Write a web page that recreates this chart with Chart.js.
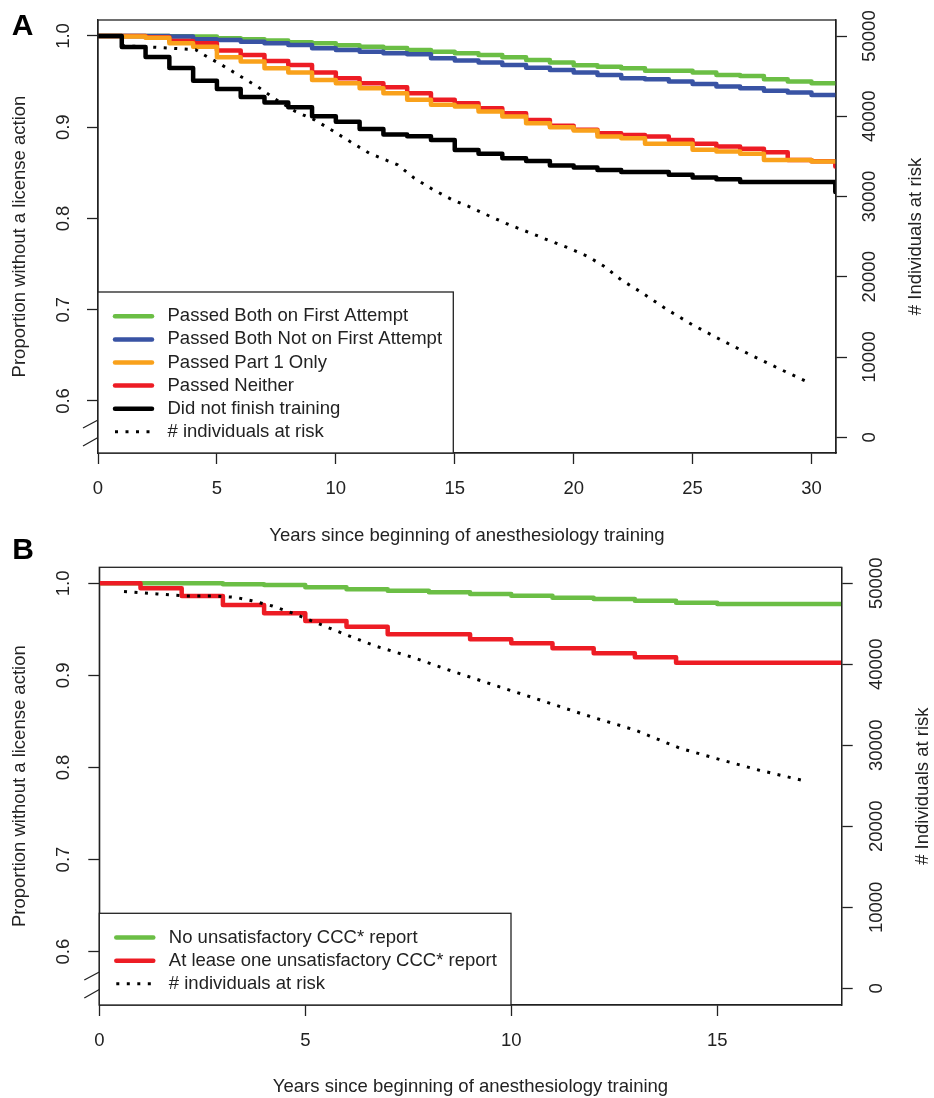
<!DOCTYPE html>
<html>
<head>
<meta charset="utf-8">
<script src="https://cdn.jsdelivr.net/npm/chart.js@4.4.1/dist/chart.umd.min.js"></script>
<style>
  body { margin: 0; background: #fff; }
  canvas { position: absolute; left: 0; }
  #chartA { top: 0; }
  #chartB { top: 530px; }
</style>
</head>
<body>
<canvas id="chartA" width="934" height="548"></canvas>
<canvas id="chartB" width="934" height="568"></canvas>
<script>
// ---- panel A: survival by board exam result (yearly steps) ----
const yearsA = [0, 1, 2, 3, 4, 5, 6, 7, 8, 9, 10, 11, 12, 13, 14, 15, 16, 17, 18, 19, 20, 21, 22, 23, 24, 25, 26, 27, 28, 29, 30, 31];
const passedBothFirst = [1.0, 1.0, 1.0, 0.9998, 0.9993, 0.9974, 0.9964, 0.9949, 0.9931, 0.992, 0.9898, 0.9883, 0.9869, 0.9847, 0.9828, 0.981, 0.9792, 0.9766, 0.9737, 0.9708, 0.9679, 0.9664, 0.9646, 0.962, 0.962, 0.9599, 0.9573, 0.9562, 0.9526, 0.95, 0.9482, 0.9482];
const passedBothNotFirst = [1.0, 1.0, 1.0, 0.9993, 0.9964, 0.9956, 0.9938, 0.992, 0.9901, 0.9865, 0.9847, 0.9828, 0.981, 0.98, 0.9755, 0.973, 0.9708, 0.9682, 0.9653, 0.9628, 0.9599, 0.9573, 0.9536, 0.9526, 0.95, 0.9474, 0.9445, 0.9427, 0.9401, 0.938, 0.9354, 0.9354];
const passedPart1Only = [1.0, 0.9993, 0.998, 0.992, 0.9883, 0.9766, 0.9719, 0.9646, 0.9599, 0.9518, 0.9482, 0.9427, 0.9372, 0.93, 0.9245, 0.9226, 0.9172, 0.9117, 0.9044, 0.9, 0.8964, 0.8898, 0.888, 0.8818, 0.8818, 0.8752, 0.8734, 0.8708, 0.8642, 0.8642, 0.8624, 0.8624];
const passedNeither = [1.0, 1.0, 0.9985, 0.9945, 0.992, 0.984, 0.9792, 0.9726, 0.9682, 0.9599, 0.9536, 0.9482, 0.9438, 0.9372, 0.93, 0.9263, 0.9208, 0.9153, 0.908, 0.9015, 0.8971, 0.8934, 0.8916, 0.8898, 0.8861, 0.8818, 0.8788, 0.8763, 0.8726, 0.8642, 0.8628, 0.857];
const didNotFinish = [1.0, 0.988, 0.977, 0.965, 0.951, 0.942, 0.933, 0.927, 0.922, 0.912, 0.906, 0.898, 0.892, 0.89, 0.886, 0.875, 0.871, 0.866, 0.863, 0.858, 0.856, 0.853, 0.851, 0.851, 0.848, 0.845, 0.843, 0.84, 0.84, 0.84, 0.84, 0.829];
const atRiskYearsA = [1.0, 2.4, 4.1, 4.4, 5.2, 6.0, 6.7, 7.5, 8.3, 9.1, 9.8, 10.7, 11.4, 12.6, 13.3, 14.1, 14.9, 15.6, 16.5, 17.3, 18.2, 18.9, 19.8, 20.6, 21.3, 22.0, 22.8, 23.9, 25.0, 26.2, 27.3, 28.6, 29.8];
const atRiskA = [48800, 48600, 48300, 47750, 46400, 44960, 43720, 42060, 40600, 39560, 38320, 36660, 35410, 33950, 32290, 30840, 29590, 28750, 27510, 26470, 25440, 24600, 23570, 22520, 21270, 19610, 18150, 15960, 14000, 12130, 10470, 8600, 6930];
const xTicksA = [0, 5, 10, 15, 20, 25, 30];

// ---- panel B: survival by CCC report ----
const yearsB = [0, 1, 2, 3, 4, 5, 6, 7, 8, 9, 10, 11, 12, 13, 14, 15, 16, 17, 18];
const noUnsatCCC = [1.0, 1.0, 1.0, 0.9989, 0.9982, 0.9957, 0.9935, 0.992, 0.9902, 0.9884, 0.9865, 0.9844, 0.983, 0.9811, 0.9789, 0.9775, 0.9775, 0.9775, 0.9775];
const atLeastOneUnsat = [1.0, 0.9946, 0.9862, 0.9764, 0.9674, 0.959, 0.9529, 0.9446, 0.9446, 0.9392, 0.9349, 0.9294, 0.924, 0.9197, 0.9138, 0.9138, 0.9138, 0.9138, 0.9138];
const atRiskYearsB = [0.6, 1.4, 2.1, 2.8, 3.3, 3.7, 4.2, 4.7, 5.3, 6.0, 6.7, 7.6, 8.6, 9.7, 10.7, 11.8, 13.0, 14.1, 15.1, 16.0, 17.2];
const atRiskB = [49000, 48680, 48430, 48430, 48270, 47850, 47200, 46300, 45060, 43620, 42260, 40860, 39090, 37240, 35590, 33740, 31890, 29630, 28190, 26950, 25510];
const xTicksB = [0, 5, 10, 15];

// shared axes
const propTicks = [0.6, 0.7, 0.8, 0.9, 1.0];
const riskTicks = [0, 10000, 20000, 30000, 40000, 50000];

const INK = "#222";
const FONT_FAMILY = "'Liberation Sans', Arial, Helvetica, sans-serif";
const FS = 18.5;

Chart.defaults.font.family = FONT_FAMILY;
Chart.defaults.font.size = FS;
Chart.defaults.color = INK;

const pts = (xs, ys) => xs.map((x, i) => ({ x: x, y: ys[i] }));

function km(label, xs, ys, color, order) {
  return {
    label: label, data: pts(xs, ys), yAxisID: "y",
    borderColor: color, borderWidth: 4.5, stepped: "before",
    borderCapStyle: "round", borderJoinStyle: "round", order: order
  };
}

function riskLine(xs, ys) {
  return {
    label: "# individuals at risk", data: pts(xs, ys), yAxisID: "risk",
    borderColor: "#000", borderWidth: 3, borderDash: [3, 7.5], order: 0
  };
}

// R-like decorations: box, axis break, legend, panel letter, right axis title
const rDecor = {
  id: "rDecor",
  afterDraw(chart, args, o) {
    const { ctx, chartArea: a } = chart;
    ctx.save();
    ctx.strokeStyle = INK;
    ctx.lineWidth = 1.3;
    ctx.strokeRect(a.left, a.top, a.right - a.left, a.bottom - a.top);

    ctx.beginPath();
    ctx.moveTo(a.left - 15, a.bottom - 25); ctx.lineTo(a.left, a.bottom - 33);
    ctx.moveTo(a.left - 15, a.bottom - 7); ctx.lineTo(a.left, a.bottom - 15.5);
    ctx.stroke();

    // legend in the bottom-left corner
    const sets = chart.data.datasets;
    const rowH = 23.1;
    const top = a.bottom - (24.3 + (sets.length - 1) * rowH + 21.2);
    ctx.fillStyle = "#fff";
    ctx.fillRect(a.left, top, o.legendWidth, a.bottom - top);
    ctx.strokeRect(a.left, top, o.legendWidth, a.bottom - top);
    ctx.font = FS + "px " + FONT_FAMILY;
    ctx.textAlign = "left";
    ctx.textBaseline = "middle";
    sets.forEach((ds, i) => {
      const y = top + 24.3 + i * rowH;
      ctx.beginPath();
      ctx.strokeStyle = ds.borderColor;
      ctx.lineWidth = ds.borderWidth;
      ctx.lineCap = ds.borderDash ? "butt" : "round";
      ctx.setLineDash(ds.borderDash || []);
      ctx.moveTo(a.left + 17, y);
      ctx.lineTo(a.left + 54, y);
      ctx.stroke();
      ctx.setLineDash([]);
      ctx.fillStyle = INK;
      ctx.fillText(ds.label, a.left + 69.5, y);
    });

    ctx.font = "bold 30px " + FONT_FAMILY;
    ctx.textAlign = "center";
    ctx.fillStyle = "#000";
    ctx.fillText(o.letter, o.letterX, o.letterY);

    ctx.font = FS + "px " + FONT_FAMILY;
    ctx.fillStyle = INK;
    ctx.translate(o.rightTitleX, (a.top + a.bottom) / 2);
    ctx.rotate(-Math.PI / 2);
    ctx.fillText("# Individuals at risk", 0, 0);
    ctx.restore();
  }
};

function makeChart(id, cfg) {
  const grid = { drawOnChartArea: false, tickLength: 11, tickColor: INK, tickWidth: 1.3 };
  const border = { display: true, color: INK, width: 1.3 };
  return new Chart(document.getElementById(id), {
    type: "line",
    data: { datasets: cfg.datasets },
    options: {
      responsive: false,
      animation: false,
      events: [],
      layout: { padding: { top: cfg.top, left: 0, right: 0, bottom: 0 } },
      elements: { point: { radius: 0 }, line: { tension: 0 } },
      plugins: {
        legend: { display: false },
        tooltip: { enabled: false },
        rDecor: cfg.decor
      },
      scales: {
        x: {
          type: "linear", min: 0, max: cfg.xMax,
          afterBuildTicks: s => { s.ticks = cfg.xTicks.map(v => ({ value: v })); },
          afterFit: s => { s.height = cfg.xHeight; s.paddingLeft = 0; s.paddingRight = 0; },
          grid: grid, border: border,
          ticks: { padding: 13.5, autoSkip: false, maxRotation: 0, callback: v => String(v) },
          title: {
            display: true, text: "Years since beginning of anesthesiology training",
            font: { size: FS, lineHeight: 1 }, padding: { top: 0, bottom: cfg.xTitlePad }
          }
        },
        y: {
          position: "left", min: cfg.yMin, max: cfg.yMax,
          afterBuildTicks: s => { s.ticks = propTicks.map(v => ({ value: v })); },
          afterFit: s => { s.width = cfg.leftW; s.paddingTop = 0; s.paddingBottom = 0; },
          grid: grid, border: border,
          ticks: { minRotation: 90, maxRotation: 90, crossAlign: "center", padding: cfg.leftPad, autoSkip: false, callback: v => v.toFixed(1) },
          title: {
            display: true, text: "Proportion without a license action",
            font: { size: FS, lineHeight: 1 }, padding: { top: 10.75, bottom: 0 }
          }
        },
        risk: {
          position: "right", min: cfg.rMin, max: cfg.rMax,
          afterBuildTicks: s => { s.ticks = riskTicks.map(v => ({ value: v })); },
          afterFit: s => { s.width = cfg.rightW; s.paddingTop = 0; s.paddingBottom = 0; },
          grid: grid, border: border,
          ticks: { minRotation: 90, maxRotation: 90, crossAlign: "center", padding: cfg.rightPad, autoSkip: false, callback: v => String(v) }
        }
      }
    },
    plugins: [rDecor]
  });
}

makeChart("chartA", {
  datasets: [
    km("Passed Both on First Attempt", yearsA, passedBothFirst, "#6BBE45", 5),
    km("Passed Both Not on First Attempt", yearsA, passedBothNotFirst, "#3953A4", 4),
    km("Passed Part 1 Only", yearsA, passedPart1Only, "#F9A11B", 2),
    km("Passed Neither", yearsA, passedNeither, "#ED1C24", 3),
    km("Did not finish training", yearsA, didNotFinish, "#000000", 1),
    riskLine(atRiskYearsA, atRiskA)
  ],
  top: 20, xHeight: 95, leftW: 98, rightW: 98, xTitlePad: 2.75,
  xMax: 31.03, xTicks: xTicksA,
  yMin: 0.543, yMax: 1.0175, rMin: -1960, rMax: 52000,
  leftPad: 10, rightPad: -2.7,
  decor: { legendWidth: 355.3, letter: "A", letterX: 22.5, letterY: 27, rightTitleX: 916 }
});

makeChart("chartB", {
  datasets: [
    km("No unsatisfactory CCC* report", yearsB, noUnsatCCC, "#6BBE45", 2),
    km("At lease one unsatisfactory CCC* report", yearsB, atLeastOneUnsat, "#ED1C24", 1),
    riskLine(atRiskYearsB, atRiskB)
  ],
  top: 37.3, xHeight: 93, leftW: 99.3, rightW: 92.3, xTitlePad: 2,
  xMax: 18.02, xTicks: xTicksB,
  yMin: 0.542, yMax: 1.0174, rMin: -2060, rMax: 51975,
  leftPad: 11.4, rightPad: -1.7,
  decor: { legendWidth: 411.7, letter: "B", letterX: 23, letterY: 21, rightTitleX: 923 }
});
</script>
</body>
</html>
